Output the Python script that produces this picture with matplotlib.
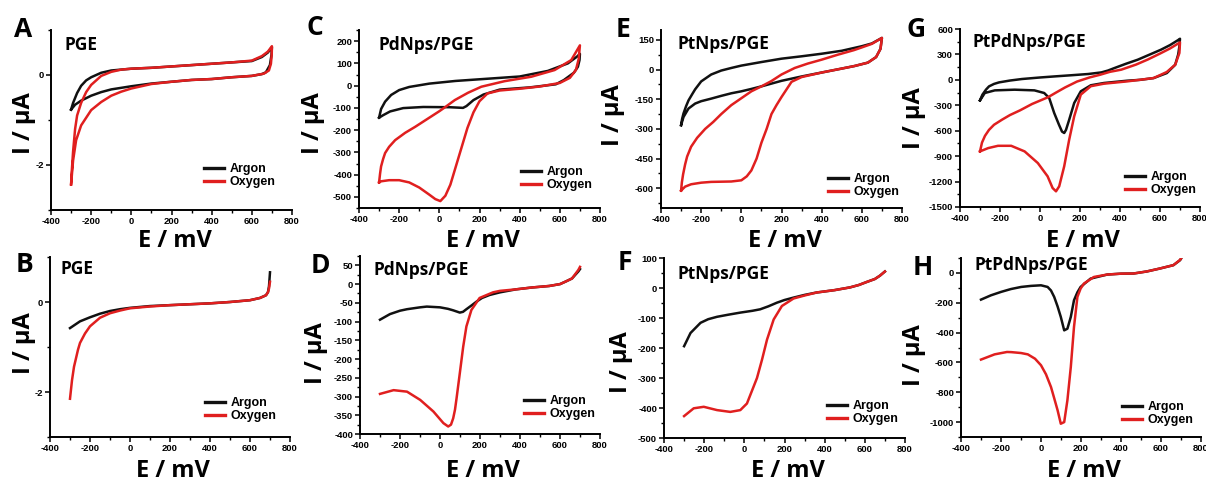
import matplotlib
matplotlib.use("Agg")
import matplotlib.pyplot as plt
from matplotlib.ticker import MultipleLocator, FuncFormatter
from matplotlib.lines import Line2D

plt.rcParams['axes.unicode_minus'] = False

# ---------------- data (E in mV, I in uA) ----------------
# Panel A: PGE, CV
E_A_ar = [-300, -290, -270, -250, -225, -200, -150, -100, -50, 0, 100, 200, 300, 400, 500, 600, 650, 680, 700,
          698, 690, 670, 650, 600, 500, 400, 300, 200, 100, 0, -100, -150, -200, -250, -280, -300]
I_A_ar = [-0.77, -0.62, -0.40, -0.24, -0.12, -0.05, 0.05, 0.10, 0.12, 0.14, 0.16, 0.19, 0.22, 0.25, 0.28, 0.31, 0.40, 0.50, 0.62,
          0.45, 0.22, 0.06, 0.02, -0.02, -0.05, -0.09, -0.11, -0.15, -0.19, -0.25, -0.32, -0.38, -0.46, -0.57, -0.66, -0.77]
E_A_ox = [-300, -296, -290, -280, -270, -250, -225, -200, -150, -100, -50, 0, 100, 200, 300, 400, 500, 600, 650, 680, 700,
          699, 695, 685, 660, 600, 500, 400, 300, 200, 100, 0, -50, -100, -150, -200, -250, -275, -290, -300]
I_A_ox = [-2.43, -2.1, -1.7, -1.2, -0.9, -0.62, -0.38, -0.22, -0.02, 0.07, 0.12, 0.14, 0.16, 0.19, 0.22, 0.25, 0.28, 0.32, 0.42, 0.52, 0.64,
          0.45, 0.25, 0.10, 0.03, -0.02, -0.05, -0.09, -0.11, -0.15, -0.20, -0.30, -0.37, -0.46, -0.60, -0.78, -1.12, -1.45, -1.9, -2.43]

# Panel B: PGE, LSV
E_B_ar = [-300, -250, -200, -150, -100, -50, 0, 100, 200, 300, 400, 500, 600, 650, 680, 690, 695, 700]
I_B_ar = [-0.58, -0.43, -0.34, -0.26, -0.20, -0.16, -0.13, -0.09, -0.07, -0.05, -0.03, 0.0, 0.04, 0.09, 0.15, 0.22, 0.35, 0.66]
E_B_ox = [-300, -290, -280, -260, -250, -225, -200, -150, -100, -50, 0, 100, 200, 300, 400, 500, 600, 650, 680, 690, 695, 700]
I_B_ox = [-2.15, -1.74, -1.44, -1.06, -0.91, -0.70, -0.54, -0.35, -0.25, -0.19, -0.14, -0.10, -0.07, -0.05, -0.03, 0.0, 0.04, 0.09, 0.15, 0.22, 0.30, 0.45]

# Panel C: PdNps/PGE, CV
E_C_ar = [-300, -290, -270, -240, -200, -150, -50, 80, 240, 400, 540, 640, 685, 700,
          698, 690, 670, 620, 580, 450, 300, 220, 170, 135, 118, 50, -80, -180, -245, -280, -300]
I_C_ar = [-144, -105, -72, -42, -20, -6, 9, 21, 31, 41, 66, 100, 130, 143,
          115, 85, 58, 25, 6, -8, -18, -40, -65, -92, -100, -97, -96, -101, -116, -133, -144]
E_C_ox = [-300, -295, -290, -280, -270, -250, -220, -170, -120, -60, 0, 27, 77, 143, 209, 325, 458, 574, 657, 700,
          694, 680, 650, 600, 500, 400, 300, 240, 200, 170, 140, 110, 80, 55, 30, 5, -20, -50, -100, -150, -200, -250, -290, -300]
I_C_ox = [-435, -395, -363, -330, -303, -275, -245, -212, -185, -150, -115, -98, -65, -32, -5, 20, 40, 70, 115, 181,
          120, 70, 35, 12, -4, -14, -22, -35, -70, -120, -190, -280, -370, -445, -495, -519, -510, -490, -458, -435, -425, -425, -430, -435]

# Panel D: PdNps/PGE, LSV
E_D_ar = [-300, -250, -200, -165, -100, -66, 0, 40, 66, 99, 115, 132, 160, 182, 210, 248, 300, 380, 460, 546, 600, 629, 660, 692, 700]
I_D_ar = [-95, -80, -71, -67, -62, -60, -62, -66, -70, -76, -74, -67, -56, -47, -37, -29, -22, -14, -9, -5, 0, 7, 15, 34, 40]
E_D_ox = [-300, -232, -165, -99, -33, 17, 41, 55, 66, 75, 83, 99, 116, 132, 157, 198, 265, 300, 380, 460, 546, 600, 629, 660, 692, 700]
I_D_ox = [-293, -283, -287, -309, -340, -371, -380, -375, -358, -335, -304, -238, -167, -113, -69, -37, -22, -18, -14, -9, -5, 0, 7, 15, 38, 46]

# Panel E: PtNps/PGE, CV
E_E_ar = [-300, -295, -288, -275, -263, -245, -230, -200, -150, -100, -50, 0, 100, 200, 300, 400, 500, 600, 650, 700,
          693, 671, 630, 564, 500, 400, 300, 200, 100, 50, 0, -50, -100, -150, -200, -230, -263, -288, -300]
I_E_ar = [-281, -250, -222, -185, -156, -125, -100, -60, -25, -5, 8, 20, 38, 55, 67, 80, 95, 118, 132, 160,
          105, 63, 35, 18, 5, -15, -35, -57, -85, -98, -110, -120, -133, -147, -160, -172, -197, -240, -281]
E_E_ox = [-300, -296, -290, -280, -270, -250, -220, -180, -140, -100, -50, 0, 50, 100, 150, 200, 266, 330, 400, 480, 560, 600, 650, 700,
          693, 671, 630, 564, 500, 400, 300, 250, 200, 175, 150, 126, 100, 76, 50, 27, 0, -50, -100, -150, -200, -250, -280, -300]
I_E_ox = [-612, -570, -530, -480, -440, -390, -345, -300, -265, -225, -180, -145, -110, -85, -58, -25, 8, 30, 50, 75, 98, 112, 130, 160,
          105, 63, 35, 18, 5, -15, -38, -62, -139, -180, -225, -300, -370, -450, -510, -540, -560, -566, -567, -568, -572, -580, -592, -612]

# Panel F: PtNps/PGE, LSV
E_F_ar = [-300, -268, -218, -180, -136, -80, -20, 40, 79, 120, 162, 200, 245, 300, 360, 450, 526, 570, 609, 650, 675, 700]
I_F_ar = [-194, -150, -116, -104, -96, -89, -82, -76, -71, -61, -49, -40, -32, -23, -15, -7, 2, 10, 20, 30, 41, 55]
E_F_ox = [-300, -252, -202, -136, -70, -20, 13, 46, 63, 88, 113, 146, 187, 245, 300, 360, 450, 526, 570, 609, 650, 675, 700]
I_F_ox = [-427, -401, -396, -407, -413, -407, -385, -329, -300, -239, -172, -105, -60, -35, -25, -15, -7, 2, 10, 20, 30, 41, 55]

# Panel G: PtPdNps/PGE, CV
E_G_ar = [-300, -288, -270, -255, -230, -205, -150, -90, 0, 75, 160, 241, 307, 340, 373, 430, 489, 550, 605, 650, 691, 700,
          697, 691, 676, 634, 568, 500, 436, 320, 254, 204, 171, 146, 130, 121, 110, 95, 71, 46, 21, -28, -127, -226, -276, -300]
I_G_ar = [-242, -175, -115, -77, -48, -30, -8, 10, 28, 41, 55, 69, 88, 110, 140, 190, 238, 300, 356, 410, 470, 485,
          395, 300, 178, 80, 21, 0, -10, -37, -64, -135, -273, -470, -590, -627, -610, -530, -391, -214, -155, -124, -116, -124, -155, -242]
E_G_ox = [-300, -290, -275, -255, -230, -190, -150, -100, -40, 0, 40, 80, 125, 185, 250, 300, 350, 406, 480, 539, 600, 650, 700,
          697, 676, 634, 568, 436, 320, 254, 204, 171, 146, 121, 96, 80, 63, 38, -11, -77, -144, -210, -259, -300]
I_G_ox = [-844, -740, -660, -590, -530, -470, -415, -360, -285, -245, -205, -150, -90, -20, 30, 60, 95, 120, 180, 240, 310, 370, 442,
          317, 178, 93, 21, -18, -45, -75, -174, -430, -705, -1020, -1256, -1315, -1276, -1138, -981, -844, -778, -778, -805, -844]

# Panel H: PtPdNps/PGE, LSV
E_H_ar = [-300, -250, -199, -150, -99, -50, 0, 33, 50, 66, 83, 99, 116, 132, 149, 165, 182, 198, 248, 331, 400, 463, 530, 596, 662, 695, 700]
I_H_ar = [-179, -150, -127, -108, -94, -87, -83, -94, -118, -161, -225, -295, -385, -374, -295, -183, -130, -94, -38, -11, -5, -4, 10, 30, 52, 85, 95]
E_H_ox = [-300, -232, -170, -149, -100, -66, -30, 0, 25, 50, 66, 83, 99, 116, 132, 149, 165, 182, 198, 215, 265, 331, 400, 463, 530, 596, 662, 695, 700]
I_H_ox = [-581, -546, -530, -531, -537, -546, -575, -619, -680, -765, -840, -921, -1011, -1000, -854, -631, -362, -161, -105, -71, -27, -11, -5, -4, 10, 30, 52, 87, 97]

letters = ["A", "B", "C", "D", "E", "F", "G", "H"]
titles = ["PGE", "PGE", "PdNps/PGE", "PdNps/PGE", "PtNps/PGE", "PtNps/PGE", "PtPdNps/PGE", "PtPdNps/PGE"]
series_labels = ["Argon", "Oxygen"]
x_label = "E / mV"
y_label = "I / \u03bcA"

curves = [(E_A_ar, I_A_ar, E_A_ox, I_A_ox), (E_B_ar, I_B_ar, E_B_ox, I_B_ox),
          (E_C_ar, I_C_ar, E_C_ox, I_C_ox), (E_D_ar, I_D_ar, E_D_ox, I_D_ox),
          (E_E_ar, I_E_ar, E_E_ox, I_E_ox), (E_F_ar, I_F_ar, E_F_ox, I_F_ox),
          (E_G_ar, I_G_ar, E_G_ox, I_G_ox), (E_H_ar, I_H_ar, E_H_ox, I_H_ox)]

# ---------------- layout (pixels) ----------------
W, H = 1206, 484
boxes = [(51, 30, 292, 210), (50, 257, 290, 437), (359, 30, 600, 208), (360, 256, 600, 434),
         (661, 30, 902, 208), (664, 258, 905, 438), (960, 29, 1200, 207), (961, 258, 1201, 437)]
ylims = [(-3, 1), (-3, 1), (-550, 250), (-400, 75), (-700, 200), (-500, 100), (-1500, 600), (-1100, 100)]
ymajor = [2, 2, 100, 50, 150, 100, 300, 200]
yminor = [1, 1, 50, 25, 75, 50, 150, 100]
letter_pos = [(14, 37), (16, 272), (307, 35), (311, 273), (616, 37), (618, 270), (906, 37), (913, 275)]
title_pos = [(65, 50), (60, 274), (379, 50), (374, 275), (677, 49), (677, 279), (973, 47), (975, 270)]
ylab_pos = [(24, 123), (24, 343), (313, 123), (316, 353), (613, 115), (621, 362), (914, 118), (914, 355)]
xlab_base = [247, 477]
leg_pos = [(204, 163), (205, 397), (521, 166), (524, 395), (828, 173), (827, 400), (1125, 171), (1122, 401)]

RED = "#e01f1f"
BLACK = "#111111"
LBL_FONT = "Open Sans"
TICK_FONT = "Liberation Sans"

fig = plt.figure(figsize=(W / 100, H / 100), dpi=100)
fig.patch.set_facecolor("white")

fmt = FuncFormatter(lambda v, p: "%d" % round(v))

for i in range(8):
    l, t, r, b = boxes[i]
    ax = fig.add_axes([l / W, 1 - b / H, (r - l) / W, (b - t) / H])
    ea, ia, eo, io = curves[i]
    ax.plot(ea, ia, color=BLACK, lw=1.8, solid_joinstyle="round")
    ax.plot(eo, io, color=RED, lw=1.8, solid_joinstyle="round")
    ax.set_xlim(-400, 800)
    ax.set_ylim(*ylims[i])
    ax.xaxis.set_major_locator(MultipleLocator(200))
    ax.xaxis.set_minor_locator(MultipleLocator(100))
    ax.yaxis.set_major_locator(MultipleLocator(ymajor[i]))
    ax.yaxis.set_minor_locator(MultipleLocator(yminor[i]))
    ax.xaxis.set_major_formatter(fmt)
    ax.yaxis.set_major_formatter(fmt)
    for s in ("top", "right"):
        ax.spines[s].set_visible(False)
    for s in ("left", "bottom"):
        ax.spines[s].set_linewidth(1.4)
    ax.tick_params(which="major", direction="out", length=3.5, width=1.1, pad=1.5)
    ax.tick_params(which="minor", direction="out", length=2, width=1.0)
    for lab in ax.get_xticklabels() + ax.get_yticklabels():
        lab.set_fontfamily(TICK_FONT)
        lab.set_fontweight("bold")
        lab.set_fontsize(6.8)
    ax.patch.set_alpha(0)

    handles = [Line2D([], [], color=BLACK, lw=2.4), Line2D([], [], color=RED, lw=2.4)]
    lx, ly = leg_pos[i]
    ax.legend(handles, series_labels, loc="upper left", bbox_to_anchor=(lx / W, 1 - ly / H),
              bbox_transform=fig.transFigure, frameon=False, borderpad=0, borderaxespad=0,
              handlelength=1.6, handletextpad=0.45, labelspacing=0.1,
              prop={"family": TICK_FONT, "weight": "bold", "size": 9})

    px, py = letter_pos[i]
    fig.text(px / W, 1 - py / H, letters[i], fontsize=19, fontweight="bold", family=LBL_FONT,
             ha="left", va="baseline")
    tx, ty = title_pos[i]
    fig.text(tx / W, 1 - ty / H, titles[i], fontsize=12.5, fontweight="bold", family=LBL_FONT,
             ha="left", va="baseline")
    yx, yy = ylab_pos[i]
    fig.text(yx / W, 1 - yy / H, y_label, fontsize=17, fontweight="bold", family=LBL_FONT,
             rotation=90, ha="center", va="center")
    fig.text(((l + r) / 2 + 3) / W, 1 - xlab_base[i % 2] / H, x_label, fontsize=17, fontweight="bold",
             family=LBL_FONT, ha="center", va="baseline")

fig.savefig("out.png", dpi=100)
